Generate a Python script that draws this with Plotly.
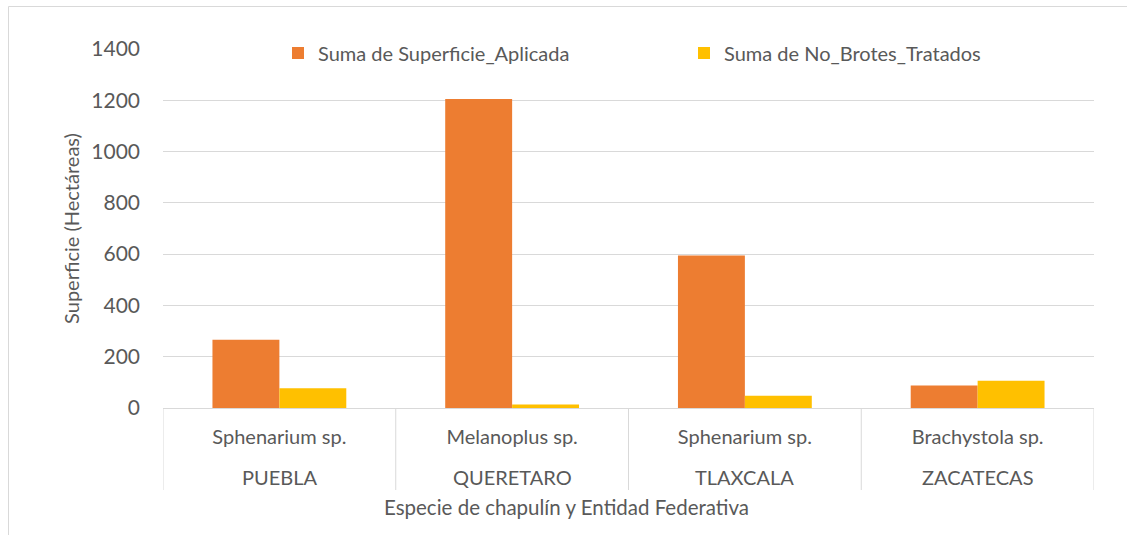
import plotly.graph_objects as go

estados = ["PUEBLA", "QUERETARO", "TLAXCALA", "ZACATECAS"]
especies = ["Sphenarium sp.", "Melanoplus sp.", "Sphenarium sp.", "Brachystola sp."]
superficie = [266, 1205, 595, 88]
brotes = [77, 14, 48, 106]
y_ticks = [0, 200, 400, 600, 800, 1000, 1200, 1400]

FONT = "Lato"
GRAY = "#595959"
GRID = "#d9d9d9"

W, H = 1127, 535
L, R, T, B = 163, 1094, 49, 408
pw, ph = R - L, B - T

def px(x):
    return (x - L) / pw

def py(y):
    return (B - y) / ph

fig = go.Figure()
fig.add_trace(go.Bar(x=estados, y=superficie, name="Suma de Superficie_Aplicada",
                     marker=dict(color="#ED7D31", line=dict(width=0))))
fig.add_trace(go.Bar(x=estados, y=brotes, name="Suma de No_Brotes_Tratados",
                     marker=dict(color="#FFC000", line=dict(width=0))))

annotations = [dict(text="Especie de chapulín y Entidad Federativa", xref="paper",
                    yref="paper", x=px(566), y=py(507), xanchor="center",
                    yanchor="middle", showarrow=False,
                    font=dict(size=20.5, color=GRAY))]
for e in estados:
    annotations.append(dict(text=e, xref="x", yref="paper", x=e, y=py(477),
                            xanchor="center", yanchor="middle", showarrow=False,
                            font=dict(size=20, color=GRAY)))

shapes = [
    dict(type="line", xref="paper", yref="paper", x0=px(8.5), x1=px(1140),
         y0=py(6.5), y1=py(6.5), line=dict(color=GRID, width=1)),
    dict(type="line", xref="paper", yref="paper", x0=px(8.5), x1=px(8.5),
         y0=py(6.5), y1=py(545), line=dict(color=GRID, width=1)),
]
for i in range(len(estados) + 1):
    shapes.append(dict(type="line", xref="x", yref="paper", x0=i - 0.5, x1=i - 0.5,
                       y0=0, y1=py(490), line=dict(color=GRID, width=1)))

fig.update_layout(
    width=W, height=H,
    margin=dict(l=L, r=W - R, t=T, b=H - B, pad=0),
    paper_bgcolor="white", plot_bgcolor="white",
    font=dict(family=FONT, size=20, color=GRAY),
    barmode="group", bargap=0.425, bargroupgap=0,
    showlegend=True,
    legend=dict(orientation="h", x=px(278), y=py(53), xanchor="left", yanchor="middle",
                bgcolor="rgba(0,0,0,0)", font=dict(size=20, color=GRAY),
                entrywidth=361, entrywidthmode="pixels", traceorder="normal"),
    xaxis=dict(type="category", tickvals=estados, ticktext=especies,
               showgrid=False, showline=True, linecolor=GRID, linewidth=1,
               ticks="", ticklabelstandoff=11, tickfont=dict(size=20, color=GRAY),
               range=[-0.5, len(estados) - 0.5]),
    yaxis=dict(range=[0, 1400], tickvals=y_ticks, showgrid=True, gridcolor=GRID,
               gridwidth=1, zeroline=False, showline=False, ticks="",
               tickfont=dict(size=21, color=GRAY), ticklabelstandoff=22,
               title=dict(text="Superficie (Hectáreas)", font=dict(size=20, color=GRAY),
                          standoff=6)),
    annotations=annotations,
    shapes=shapes,
)

fig.write_html("out.html", config={"displayModeBar": False},
               post_script="document.body.style.margin='0';")
